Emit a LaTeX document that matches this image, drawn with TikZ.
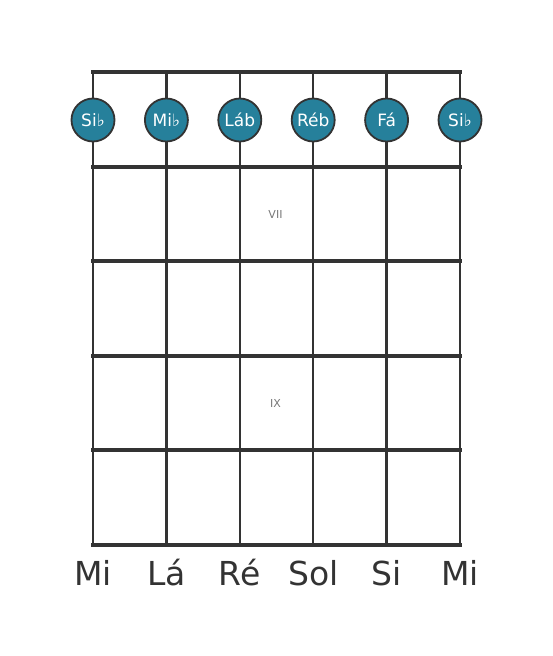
\documentclass[tikz,border=0pt]{standalone}
\usepackage{fontspec}
\setmainfont{DejaVu Sans}
\definecolor{notefill}{RGB}{38,128,155}
\definecolor{wire}{RGB}{51,51,51}
\definecolor{fretnum}{RGB}{120,120,120}
\tikzset{
  note/.style={circle, draw=wire, line width=1.8pt, fill=notefill, text=white,
    minimum size=43pt, inner sep=0pt, font=\fontsize{17}{17}\selectfont},
  tuning/.style={text=wire, inner sep=0pt, font=\fontsize{33}{33}\selectfont},
  fretlabel/.style={text=fretnum, inner sep=0pt, font=\fontsize{11}{11}\selectfont},
  stringline/.style={draw=wire, line width=2.4pt},
  fretline/.style={draw=wire, line width=4pt, line cap=rect}
}
\begin{document}
\begin{tikzpicture}[x=1pt,y=-1pt]
  \useasboundingbox (0,0) rectangle (553,656);
  % string ends
  \path
    (93,72) coordinate (t1)
    (166.4,72) coordinate (t2)
    (239.8,72) coordinate (t3)
    (313.2,72) coordinate (t4)
    (386.6,72) coordinate (t5)
    (460,72) coordinate (t6)
    (93,545) coordinate (b1)
    (166.4,545) coordinate (b2)
    (239.8,545) coordinate (b3)
    (313.2,545) coordinate (b4)
    (386.6,545) coordinate (b5)
    (460,545) coordinate (b6);
  % fret ends
  \path
    (93,167) coordinate (l1)
    (93,261) coordinate (l2)
    (93,355.5) coordinate (l3)
    (93,450) coordinate (l4)
    (460,167) coordinate (r1)
    (460,261) coordinate (r2)
    (460,355.5) coordinate (r3)
    (460,450) coordinate (r4);
  \begin{scope}[stringline]
    \draw (t1) to (b1);
    \draw (t2) to (b2);
    \draw (t3) to (b3);
    \draw (t4) to (b4);
    \draw (t5) to (b5);
    \draw (t6) to (b6);
  \end{scope}
  \begin{scope}[fretline]
    \draw (t1) to (t6);
    \draw (l1) to (r1);
    \draw (l2) to (r2);
    \draw (l3) to (r3);
    \draw (l4) to (r4);
    \draw (b1) to (b6);
  \end{scope}
  \node[fretlabel] (vii) at (275.5,214) {VII};
  \node[fretlabel] (ix) at (275.5,403) {IX};
  \node[note] (n1) at (93,120) {Si♭};
  \node[note] (n2) at (166.4,120) {Mi♭};
  \node[note] (n3) at (239.8,120) {Láb};
  \node[note] (n4) at (313.2,120) {Réb};
  \node[note] (n5) at (386.6,120) {Fá};
  \node[note] (n6) at (460,120) {Si♭};
  \node[tuning] (s1) at (93,573) {Mi};
  \node[tuning] (s2) at (166.4,573) {Lá};
  \node[tuning] (s3) at (239.8,573) {Ré};
  \node[tuning] (s4) at (313.2,573) {Sol};
  \node[tuning] (s5) at (386.6,573) {Si};
  \node[tuning] (s6) at (460,573) {Mi};
\end{tikzpicture}
\end{document}
